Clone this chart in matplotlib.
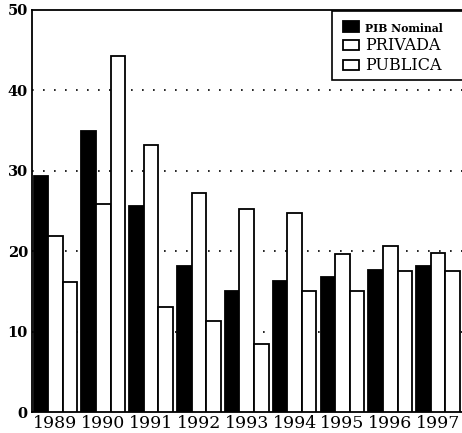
import matplotlib
matplotlib.use("Agg")
import matplotlib.pyplot as plt
from matplotlib.patches import Rectangle
import numpy as np

years = ["1989", "1990", "1991", "1992", "1993", "1994", "1995", "1996", "1997"]
pib_nominal = [29.4, 34.9, 25.6, 18.2, 15.1, 16.3, 16.8, 17.7, 18.1]
privada = [21.9, 25.9, 33.2, 27.2, 25.3, 24.8, 19.7, 20.7, 19.8]
publica = [16.2, 44.3, 13.0, 11.3, 8.5, 15.0, 15.0, 17.5, 17.5]

W, H = 462, 433
fig = plt.figure(figsize=(W/100, H/100), dpi=100)
ax = fig.add_axes([32/W, 1-412/H, 1-32/W, (412-10)/H])

x = np.arange(len(years))
w = 0.305
kw = dict(width=w, edgecolor="black", linewidth=1.3, zorder=3)
ax.bar(x - w, pib_nominal, color="black", label="PIB Nominal", **kw)
ax.bar(x, privada, color="white", label="PRIVADA", **kw)
ax.bar(x + w, publica, color="white", label="PUBLICA", **kw)

ax.set_ylim(0, 50)
ax.set_xlim(-0.49, 8.5)
ax.set_yticks([0, 10, 20, 30, 40, 50])
ax.set_yticklabels(["0", "10", "20", "30", "40", "50"],
                   fontfamily="DejaVu Serif", fontweight="bold", fontsize=10.5)
ax.set_xticks(x)
ax.set_xticklabels(years, fontfamily="DejaVu Serif", fontsize=12.5)
ax.tick_params(axis="both", length=0, pad=3)
ax.tick_params(axis="x", pad=2)

for yv in [10, 20, 30, 40]:
    ax.axhline(yv, color="black", linestyle=(0, (1, 5.6)), linewidth=1.2, zorder=1)

ax.spines["right"].set_visible(False)
for s in ["left", "bottom", "top"]:
    ax.spines[s].set_linewidth(1.3)

# legend box frame (right side extends beyond the image)
frame = Rectangle((332/W, 1-80/H), (480-332)/W, (80-11)/H, transform=fig.transFigure,
                  facecolor="white", edgecolor="black", linewidth=1.2, zorder=5,
                  clip_on=False)
fig.add_artist(frame)

leg = fig.legend(*ax.get_legend_handles_labels(), loc="upper left",
                 bbox_to_anchor=(337/W, 1-15/H), frameon=False,
                 prop={"family": "DejaVu Serif", "size": 11.5},
                 handlelength=1.0, handleheight=0.6, handletextpad=0.35,
                 labelspacing=0.2, borderpad=0.4, borderaxespad=0.0)
leg.set_zorder(6)
texts = leg.get_texts()
texts[0].set_fontweight("bold"); texts[0].set_fontsize(7.8)

fig.savefig("out.png", dpi=100)
